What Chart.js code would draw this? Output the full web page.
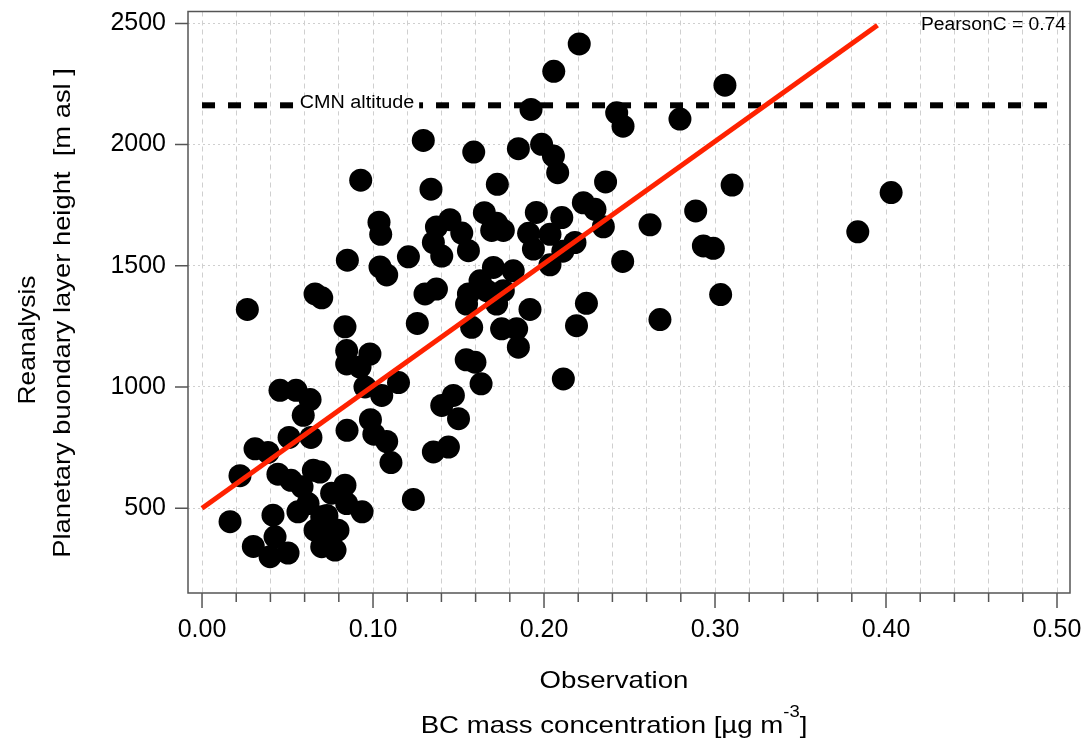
<!DOCTYPE html>
<html><head><meta charset="utf-8">
<script src="https://cdn.jsdelivr.net/npm/chart.js@4/dist/chart.umd.min.js"></script>
<style>html,body{margin:0;padding:0;background:#fff}#wrap{width:1087px;height:743px;position:relative}</style>
</head><body><div id="wrap"><canvas id="c"></canvas></div>
<script>
// Observation: BC mass concentration [µg m-3]
const obsX = [0.2206,0.2057,0.3058,0.1924,0.2425,0.2462,0.2795,0.1294,0.1589,0.185,0.1986,0.2055,0.208,0.0928,0.1339,0.1727,0.236,0.31,0.403,0.223,0.2298,0.2887,0.1651,0.1955,0.2104,0.1035,0.145,0.1371,0.1045,0.1723,0.1762,0.1694,0.1519,0.191,0.2035,0.2347,0.262,0.3835,0.2181,0.1353,0.1938,0.1558,0.2932,0.299,0.1402,0.1207,0.085,0.246,0.2035,0.1041,0.108,0.211,0.1626,0.1704,0.182,0.1762,0.1665,0.1558,0.1547,0.1723,0.1304,0.1371,0.0661,0.07,0.0265,0.2248,0.3033,0.1918,0.2678,0.219,0.1259,0.0836,0.1577,0.1752,0.184,0.185,0.0846,0.0982,0.0846,0.0924,0.1545,0.1596,0.1632,0.2113,0.1149,0.0953,0.1051,0.147,0.1402,0.15,0.0456,0.055,0.0632,0.0592,0.0985,0.0848,0.1005,0.108,0.1105,0.0509,0.0637,0.031,0.0386,0.1353,0.1441,0.0222,0.0444,0.052,0.0585,0.0651,0.069,0.0836,0.0846,0.0758,0.0936,0.1236,0.0164,0.0415,0.0561,0.062,0.07,0.0661,0.0737,0.03,0.0427,0.0398,0.0503,0.07,0.0778,0.0795,0.073];
// Reanalysis: planetary boundary layer height [m asl]
const pblhY = [2415,2302,2245,2145,2131,2076,2105,2017,1969,1983,2001,1953,1884,1853,1816,1836,1846,1833,1802,1760,1733,1726,1719,1720,1699,1680,1690,1660,1630,1675,1646,1646,1635,1634,1630,1661,1669,1640,1596,1596,1569,1562,1582,1572,1540,1537,1523,1518,1504,1495,1462,1560,1438,1493,1479,1397,1397,1384,1342,1342,1384,1404,1384,1368,1320,1345,1381,1320,1278,1253,1262,1248,1246,1240,1240,1164,1150,1136,1095,1082,1112,1102,1013,1033,1018,1000,965,965,924,869,986,986,948,883,865,821,805,775,688,792,792,745,730,732,752,634,640,615,588,656,649,595,519,562,485,536,444,471,485,519,465,409,396,342,382,300,315,341,327,409,470];
// linear fit line
const fitX = [0.0, 0.395];
const fitY = [500, 2492];
// CMN altitude reference line
const cmnX = [0.0, 0.495];
const cmnY = [2162, 2162];
const cmnLabel = 'CMN altitude';
const pearsonLabel = 'PearsonC = 0.74';
// ticks
const xGridTicks = [0,0.02,0.04,0.06,0.08,0.1,0.12,0.14,0.16,0.18,0.2,0.22,0.24,0.26,0.28,0.3,0.32,0.34,0.36,0.38,0.4,0.42,0.44,0.46,0.48,0.5];
const xMajorTicks = [0,0.1,0.2,0.3,0.4,0.5];
const yTicks = [500,1000,1500,2000,2500];
const xTitle1 = 'Observation';
const xTitle2 = 'BC mass concentration [µg m';
const xTitleSup = '-3';
const xTitleEnd = ']';
const yTitle1 = 'Reanalysis';
const yTitle2 = 'Planetary buondary layer height  [m asl ]';

const FONT = '"Liberation Sans", Arial, sans-serif';
const isMajor = v => xMajorTicks.some(m => Math.abs(m - v) < 1e-9);

function textS(ctx, t, x, y, s, rot) {
  ctx.save();
  ctx.translate(x, y);
  if (rot) ctx.rotate(rot);
  ctx.scale(s, 1);
  ctx.fillText(t, 0, 0);
  ctx.restore();
}

const decor = {
  id: 'decor',
  afterDatasetsDraw(chart) {
    const {ctx, scales: {x, y}} = chart;
    ctx.save();
    const ly = y.getPixelForValue(cmnY[0]);
    ctx.font = '18px ' + FONT;
    const cx = x.getPixelForValue(0.0906);
    const w = ctx.measureText(cmnLabel).width * 1.1;
    ctx.fillStyle = '#fff';
    ctx.fillRect(cx - w/2 - 5, ly - 6, w + 10, 12);
    ctx.fillStyle = '#000';
    ctx.textAlign = 'center';
    ctx.textBaseline = 'middle';
    textS(ctx, cmnLabel, cx, ly - 2, 1.1);
    ctx.textAlign = 'right';
    textS(ctx, pearsonLabel, 1066, 25, 1.07);
    ctx.restore();
  },
  afterDraw(chart) {
    const {ctx, chartArea: a, scales: {x, y}} = chart;
    ctx.save();
    ctx.strokeStyle = '#555';
    ctx.lineWidth = 1.5;
    ctx.strokeRect(a.left, a.top, a.right - a.left, a.bottom - a.top);
    ctx.beginPath();
    xGridTicks.forEach(v => {
      const px = x.getPixelForValue(v);
      ctx.moveTo(px, a.bottom);
      ctx.lineTo(px, a.bottom + (isMajor(v) ? 15 : 9));
    });
    yTicks.forEach(v => {
      const py = y.getPixelForValue(v);
      ctx.moveTo(a.left, py);
      ctx.lineTo(a.left - 13, py);
    });
    ctx.stroke();
    ctx.fillStyle = '#000';
    ctx.font = '24px ' + FONT;
    ctx.textAlign = 'center';
    ctx.textBaseline = 'alphabetic';
    const S = 1.15;
    textS(ctx, xTitle1, 614, 688, S);
    const w2 = ctx.measureText(xTitle2).width * S;
    ctx.font = '16px ' + FONT;
    const wS = ctx.measureText(xTitleSup).width * S;
    ctx.font = '24px ' + FONT;
    const wE = ctx.measureText(xTitleEnd).width * S;
    let sx = 614 - (w2 + wS + wE) / 2;
    ctx.textAlign = 'left';
    textS(ctx, xTitle2, sx, 733, S);
    sx += w2;
    ctx.font = '16px ' + FONT;
    textS(ctx, xTitleSup, sx, 717, S);
    sx += wS;
    ctx.font = '24px ' + FONT;
    textS(ctx, xTitleEnd, sx, 733, S);
    ctx.textAlign = 'center';
    textS(ctx, yTitle1, 35, 340, 1.1, -Math.PI / 2);
    textS(ctx, yTitle2, 70, 313, 1.14, -Math.PI / 2);
    ctx.restore();
  }
};

new Chart(document.getElementById('c'), {
  type: 'scatter',
  data: {
    datasets: [
      {
        data: obsX.map((v, i) => ({x: v, y: pblhY[i]})),
        backgroundColor: '#000', borderWidth: 0, pointRadius: 11.5, order: 3
      },
      {
        data: cmnX.map((v, i) => ({x: v, y: cmnY[i]})),
        showLine: true, pointRadius: 0, borderColor: '#000', borderWidth: 6,
        borderDash: [13, 13], borderCapStyle: 'butt', order: 2
      },
      {
        data: fitX.map((v, i) => ({x: v, y: fitY[i]})),
        showLine: true, pointRadius: 0, borderColor: '#ff2200', borderWidth: 5,
        borderCapStyle: 'butt', order: 1
      }
    ]
  },
  options: {
    responsive: true,
    maintainAspectRatio: false,
    animation: false,
    layout: {padding: {left: 0, top: 10, right: 17, bottom: 0}},
    plugins: {legend: {display: false}, tooltip: {enabled: false}},
    scales: {
      x: {
        type: 'linear', min: -0.0082, max: 0.5076,
        afterBuildTicks: s => { s.ticks = xGridTicks.map(v => ({value: v})); },
        afterFit: s => { s.height = 150; s.paddingLeft = 0; s.paddingRight = 0; },
        grid: {color: '#cfcfcf', lineWidth: 1, drawTicks: false},
        border: {display: false, dash: [5, 4]},
        ticks: {
          padding: 22, color: '#000', font: {family: FONT, size: 25},
          maxRotation: 0, autoSkip: false,
          callback: v => isMajor(v) ? v.toFixed(2) : ''
        }
      },
      y: {
        type: 'linear', min: 150, max: 2549,
        afterBuildTicks: s => { s.ticks = yTicks.map(v => ({value: v})); },
        afterFit: s => { s.width = 188; s.paddingTop = 0; s.paddingBottom = 0; },
        grid: {color: '#cfcfcf', lineWidth: 1, drawTicks: false},
        border: {display: false, dash: [2, 3]},
        ticks: {
          padding: 22, color: '#000', font: {family: FONT, size: 25},
          callback: v => String(v)
        }
      }
    }
  },
  plugins: [decor]
});
</script>
</body></html>
